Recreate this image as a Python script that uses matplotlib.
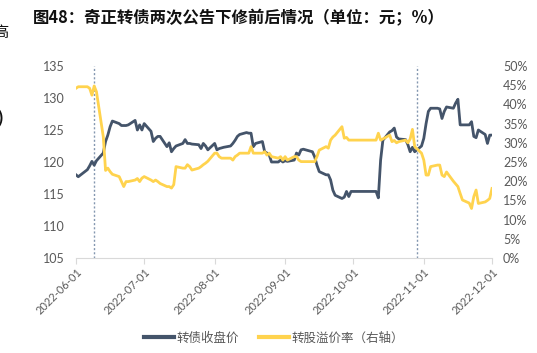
import matplotlib
matplotlib.use("Agg")
import matplotlib.pyplot as plt
import matplotlib.dates as mdates
import pandas as pd
from matplotlib.ticker import FuncFormatter, MultipleLocator

plt.rcParams['font.family'] = ['Noto Sans CJK SC', 'DejaVu Sans']

# ---- data ----
bond_dates = ["2022-06-01","2022-06-02","2022-06-06","2022-06-07","2022-06-08","2022-06-09","2022-06-10",
"2022-06-13","2022-06-14","2022-06-15","2022-06-16","2022-06-17","2022-06-20","2022-06-21","2022-06-22",
"2022-06-23","2022-06-24","2022-06-27","2022-06-28","2022-06-29","2022-06-30","2022-07-01","2022-07-04",
"2022-07-05","2022-07-06","2022-07-07","2022-07-08","2022-07-11","2022-07-12","2022-07-13","2022-07-14",
"2022-07-15","2022-07-18","2022-07-19","2022-07-20","2022-07-21","2022-07-22","2022-07-25","2022-07-26",
"2022-07-27","2022-07-28","2022-07-29","2022-08-01","2022-08-02","2022-08-03","2022-08-04","2022-08-05",
"2022-08-08","2022-08-09","2022-08-10","2022-08-11","2022-08-12","2022-08-15","2022-08-16","2022-08-17",
"2022-08-18","2022-08-19","2022-08-22","2022-08-23","2022-08-24","2022-08-25","2022-08-26","2022-08-29",
"2022-08-30","2022-08-31","2022-09-01","2022-09-02","2022-09-05","2022-09-06","2022-09-07","2022-09-08",
"2022-09-09","2022-09-13","2022-09-14","2022-09-15","2022-09-16","2022-09-19","2022-09-20","2022-09-21",
"2022-09-22","2022-09-23","2022-09-26","2022-09-27","2022-09-28","2022-09-29","2022-09-30","2022-10-10",
"2022-10-11","2022-10-12","2022-10-13","2022-10-14","2022-10-17","2022-10-18","2022-10-19","2022-10-20",
"2022-10-21","2022-10-24","2022-10-25","2022-10-26","2022-10-27","2022-10-28","2022-10-31","2022-11-01",
"2022-11-02","2022-11-03","2022-11-04","2022-11-07","2022-11-08","2022-11-09","2022-11-10","2022-11-11",
"2022-11-14","2022-11-15","2022-11-16","2022-11-17","2022-11-18","2022-11-21","2022-11-22","2022-11-23",
"2022-11-24","2022-11-25","2022-11-28","2022-11-29","2022-11-30","2022-12-01"]

bond_close = [118.0,117.7,118.8,119.4,120.1,119.5,120.2,
121.4,123.2,124.2,125.5,126.4,126.0,125.7,125.7,
125.7,125.8,126.5,125.0,125.8,125.0,126.0,124.8,
123.2,123.7,124.0,124.0,122.4,123.0,121.6,122.1,
122.5,122.9,123.5,122.9,122.9,122.8,122.7,122.1,
122.9,122.5,121.9,122.9,121.9,122.1,122.2,122.3,
122.5,122.9,123.4,124.0,124.3,124.6,124.5,124.5,
122.4,122.9,123.2,121.6,121.4,121.1,120.0,120.0,
120.3,120.0,120.2,120.1,120.3,121.4,121.1,121.9,
122.0,121.6,120.8,119.5,118.5,118.0,118.0,117.2,
115.6,114.8,114.3,114.5,115.4,114.6,115.4,115.4,
115.4,114.4,120.3,123.4,124.7,124.9,125.3,123.9,
123.6,123.5,122.7,121.6,122.3,121.6,122.5,123.7,
126.0,127.9,128.4,128.4,128.3,126.8,127.9,128.6,
128.4,129.2,129.8,125.8,125.8,125.8,126.3,124.0,
123.8,125.0,124.3,122.9,124.2,124.2]

premium = [44.2,44.6,44.6,44.2,42.4,44.8,43.3,
31.6,22.8,23.4,22.5,21.8,21.2,19.9,18.6,
19.9,19.9,20.3,20.7,19.9,20.8,21.2,20.3,
19.9,20.3,19.9,19.4,18.6,18.6,18.2,19.1,
23.8,23.4,23.4,24.3,23.8,22.9,23.4,23.8,
24.3,24.7,25.2,27.3,27.3,26.4,26.0,26.0,
26.0,25.5,26.4,26.8,27.3,27.3,27.3,29.0,
27.3,27.3,27.3,27.7,26.8,27.3,26.4,26.0,
26.4,25.5,26.4,25.5,26.4,26.4,25.5,25.1,
25.1,25.1,25.1,26.4,28.1,29.0,28.6,30.7,
31.5,32.0,34.2,31.2,31.4,30.7,30.7,30.7,
30.7,32.5,30.7,31.0,32.0,30.3,30.6,30.0,
30.3,30.7,30.0,31.0,33.5,29.0,27.3,25.5,
21.6,21.6,23.8,24.2,24.2,21.6,21.2,22.4,
20.0,19.3,18.6,16.8,15.1,14.3,12.9,16.0,
17.7,14.2,14.6,15.0,15.5,18.1]

announce_dates = ["2022-06-09", "2022-10-29"]
x_ticks = ["2022-06-01","2022-07-01","2022-08-01","2022-09-01","2022-10-01","2022-11-01","2022-12-01"]

title = "图48：奇正转债两次公告下修前后情况（单位：元；%）"
label_bond = "转债收盘价"
label_prem = "转股溢价率（右轴）"

dates = pd.to_datetime(bond_dates)
navy = "#44546A"
gold = "#FFD34E"
grey = "#595959"

fig = plt.figure(figsize=(5.37, 3.53), dpi=100)
ax = fig.add_axes([76/537, 1-258/353, (492-76)/537, (258-66)/353])
ax2 = ax.twinx()

l1, = ax.plot(dates, bond_close, color=navy, lw=2.0, solid_joinstyle='round')
l2, = ax2.plot(dates, premium, color=gold, lw=2.0, solid_joinstyle='round')

for d in announce_dates:
    ax.axvline(pd.Timestamp(d), color="#8497B0", lw=1.0, ls=(0, (1.5, 1.5)), zorder=0)

ax.set_ylim(105, 135)
ax.yaxis.set_major_locator(MultipleLocator(5))
ax2.set_ylim(0, 50)
ax2.yaxis.set_major_locator(MultipleLocator(5))
ax2.yaxis.set_major_formatter(FuncFormatter(lambda v, p: f"{int(round(v))}%"))

ax.set_xlim(pd.Timestamp(x_ticks[0]), pd.Timestamp(x_ticks[-1]))
ax.set_xticks(pd.to_datetime(x_ticks))
ax.xaxis.set_major_formatter(mdates.DateFormatter("%Y-%m-%d"))

for a in (ax, ax2):
    for s in ("top", "left", "right"):
        a.spines[s].set_visible(False)
    a.spines["bottom"].set_color("#D9D9D9")
ax2.spines["bottom"].set_visible(False)

ax.tick_params(axis='y', length=0, labelsize=9, labelcolor=grey, pad=8)
ax2.tick_params(axis='y', length=0, labelsize=9, labelcolor=grey, pad=8)
ax.tick_params(axis='x', length=4, color="#D9D9D9", labelsize=8, labelcolor=grey, pad=2)
for lab in ax.get_xticklabels():
    lab.set_rotation(45)
    lab.set_ha('right')
    lab.set_rotation_mode('anchor')
for lab in ax.get_yticklabels() + ax2.get_yticklabels() + ax.get_xticklabels():
    lab.set_family(['Lato', 'DejaVu Sans'])

fig.legend([l1, l2], [label_bond, label_prem], loc='center', bbox_to_anchor=(274/537, 1-338/353),
           ncol=2, frameon=False, fontsize=9, labelcolor=grey, handlelength=2.4,
           handletextpad=0.2, columnspacing=1.6)
for h in fig.legends[0].get_lines():
    h.set_linewidth(3)

fig.text(33/537, 1-18/353, title, fontsize=11.8, fontweight='bold', va='center', ha='left', color='#111111')
fig.text(-7/537, 1-33/353, "高", fontsize=11, va='center', ha='left', color='#111111')
fig.text(-3/537, 1-118/353, ")", fontsize=11, fontweight='bold', va='center', ha='left', color='#111111')

fig.savefig("out.png", dpi=100)
